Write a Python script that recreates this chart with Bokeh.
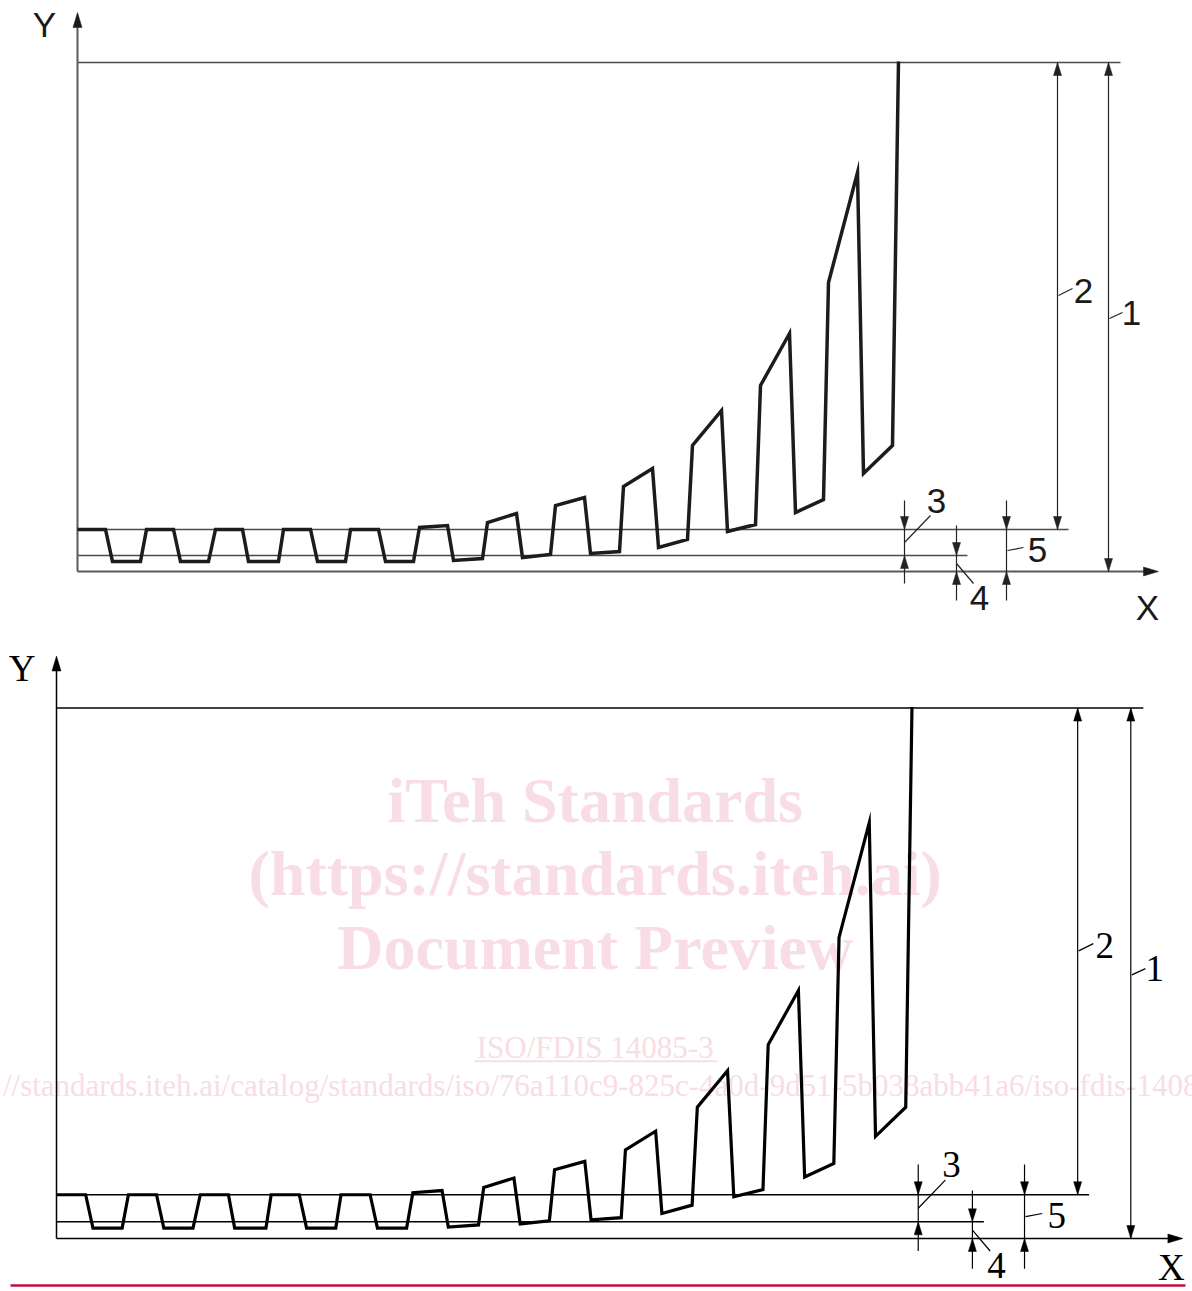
from bokeh.plotting import figure
from bokeh.models import Range1d
from bokeh.layouts import column
from bokeh.embed import file_html
from bokeh.resources import INLINE
from bokeh.core.properties import value

# ---------------- data (drawing units, origin = axes intersection) ----------------
wave_x = [0, 28, 35, 63, 69, 96, 103, 131, 138, 165, 171, 201, 206, 233, 240, 268,
          273, 301, 308, 336, 342, 370, 376, 405, 410, 439, 445, 473, 478, 507, 513, 542,
          546, 575, 581, 610, 615, 644, 650, 678, 683, 712, 718, 746, 751, 780, 786, 815, 821]
wave_y = [42, 42, 10, 10, 42, 42, 10, 10, 42, 42, 10, 10, 42, 42, 10, 10,
          42, 42, 10, 10, 44, 46, 11, 13, 49, 58, 14, 17, 66, 74, 18, 20,
          85, 103, 24, 32, 126, 161, 40, 47, 186, 238, 59, 72, 289, 399, 98, 126, 510]

ref_levels = [509, 42, 16]          # top line, upper reference line, lower reference line
ref_ends = [1043, 991, 890]
x_axis_end = 1081
y_axis_end = 559

dim_names = ["1", "2", "3", "4", "5"]
dim_x = [1031, 980, 827, 879, 929]
dim_lo = [0, 42, 16, 0, 0]
dim_hi = [509, 509, 42, 16, 42]
dim_inside = [True, True, False, False, False]
dim_ext_lo = [0, 42, -12, -29, -29]
dim_ext_hi = [509, 509, 71, 46, 71]
lead_x0 = [1032, 981, 827, 879, 930]
lead_y0 = [253, 276, 29, 8, 21]
lead_x1 = [1045, 995, 853, 896, 946]
lead_y1 = [259, 283, 56, -12, 24]
lab_x = [1054, 1006, 859, 902, 960]
lab_y = [259, 281, 71, -26, 22]

axis_names = ["X", "Y"]
axis_lab_x = [1070, -33]
axis_lab_y = [-36, 547]

watermark_lines = ["iTeh Standards", "(https://standards.iteh.ai)", "Document Preview"]
watermark_y = [420, 350, 279]
iso_line = "ISO/FDIS 14085-3"
iso_y = 183
iso_underline_y = 170
iso_underline_x = [401, 634]
url_line = "https://standards.iteh.ai/catalog/standards/iso/76a110c9-825c-4a0d-9d51-5b038abb41a6/iso-fdis-14085-3"
url_y = 147
wm_x = 517

PAGE_W = 1192


def heads(tips, s, L, hw):
    xs, ys = [], []
    l, w = L / s, hw / s
    for (x, y, dx, dy) in tips:
        bx, by = x - dx * l, y - dy * l
        px, py = -dy * w, dx * w
        xs.append([x, bx + px, bx - px])
        ys.append([y, by + py, by - py])
    return xs, ys


def build(ox, oy, s, py0, py1, st, watermark=False):
    H = py1 - py0
    p = figure(width=PAGE_W, height=H,
               x_range=Range1d((0 - ox) / s, (PAGE_W - ox) / s),
               y_range=Range1d((oy - py1) / s, (oy - py0) / s),
               output_backend="svg", toolbar_location=None, min_border=0,
               x_axis_type=None, y_axis_type=None)
    p.outline_line_color = None
    p.background_fill_color = "white"
    p.border_fill_color = "white"

    if watermark:
        wm_col = "#f8dde4"
        p.text(x=[wm_x] * 3, y=watermark_y, text=watermark_lines, text_align="center",
               text_baseline="middle", text_font=value("Liberation Serif"),
               text_font_style="bold", text_font_size="64px", text_color=wm_col)
        p.text(x=[wm_x], y=[iso_y], text=[iso_line], text_align="center",
               text_baseline="middle", text_font=value("Liberation Serif"),
               text_font_size="31px", text_color=wm_col)
        p.segment(x0=[iso_underline_x[0]], y0=[iso_underline_y],
                  x1=[iso_underline_x[1]], y1=[iso_underline_y],
                  line_color=wm_col, line_width=2)
        p.text(x=[wm_x - 8], y=[url_y], text=[url_line], text_align="center",
               text_baseline="middle", text_font=value("Liberation Serif"),
               text_font_size="31px", text_color=wm_col)
        p.segment(x0=[(10 - ox) / s], y0=[(oy - 1285) / s], x1=[(1185 - ox) / s], y1=[(oy - 1285) / s],
                  line_color="#c0103f", line_width=2.5)

    # reference lines
    p.segment(x0=[0] * 3, y0=ref_levels, x1=ref_ends, y1=ref_levels,
              line_color=st["ref"], line_width=st["ref_w"])
    # axes
    p.segment(x0=[0, 0], y0=[0, 0], x1=[x_axis_end - 5, 0], y1=[0, y_axis_end - 5],
              line_color=st["axis"], line_width=st["axis_w"])
    ax_xs, ax_ys = heads([(x_axis_end, 0, 1, 0), (0, y_axis_end, 0, 1)], s, 15, 4.5)
    p.patches(ax_xs, ax_ys, fill_color=st["axis_head"], line_color=st["axis_head"], line_width=0.5)

    # dimension lines
    p.segment(x0=dim_x, y0=dim_ext_lo, x1=dim_x, y1=dim_ext_hi,
              line_color=st["dim"], line_width=st["dim_w"])
    tips = []
    for dx, lo, hi, ins in zip(dim_x, dim_lo, dim_hi, dim_inside):
        if ins:
            tips += [(dx, hi, 0, 1), (dx, lo, 0, -1)]
        else:
            tips += [(dx, hi, 0, -1), (dx, lo, 0, 1)]
    d_xs, d_ys = heads(tips, s, 13, 4)
    p.patches(d_xs, d_ys, fill_color=st["dim"], line_color=st["dim"], line_width=0.5)
    p.segment(x0=lead_x0, y0=lead_y0, x1=lead_x1, y1=lead_y1,
              line_color=st["dim"], line_width=st["dim_w"])

    # waveform
    p.line(wave_x, wave_y, line_color=st["wave"], line_width=st["wave_w"], line_join="miter")

    # texts
    p.text(x=lab_x, y=lab_y, text=dim_names, text_align="center", text_baseline="middle",
           text_font=value(st["font"]), text_font_size=st["fs"], text_color=st["txt"])
    ay = [axis_lab_y[0] + st["x_lab_lift"], axis_lab_y[1]]
    p.text(x=axis_lab_x, y=ay, text=axis_names, text_align="center", text_baseline="middle",
           text_font=value(st["font"]), text_font_size=st["fs"], text_color=st["txt"])
    return p


top_style = dict(ref="#4a4a4a", ref_w=1.6, axis="#5a5a5a", axis_w=2.0, axis_head="#1a1a1a",
                 dim="#222222", dim_w=1.2, wave="#1c1c1c", wave_w=3.5,
                 font="Liberation Sans", fs="35px", txt="#1a1a1a", x_lab_lift=0)
bot_style = dict(ref="#000000", ref_w=1.5, axis="#000000", axis_w=1.5, axis_head="#000000",
                 dim="#000000", dim_w=1.2, wave="#000000", wave_w=3.2,
                 font="Liberation Serif", fs="37px", txt="#000000", x_lab_lift=8)

s2 = 1.042
p1 = build(77, 571, 1.0, 0, 640, top_style)
p2 = build(56, 1238, s2, 640, 1291, bot_style, watermark=True)

layout = column(p1, p2, spacing=0)
open("out.html", "w").write(file_html(layout, INLINE))
